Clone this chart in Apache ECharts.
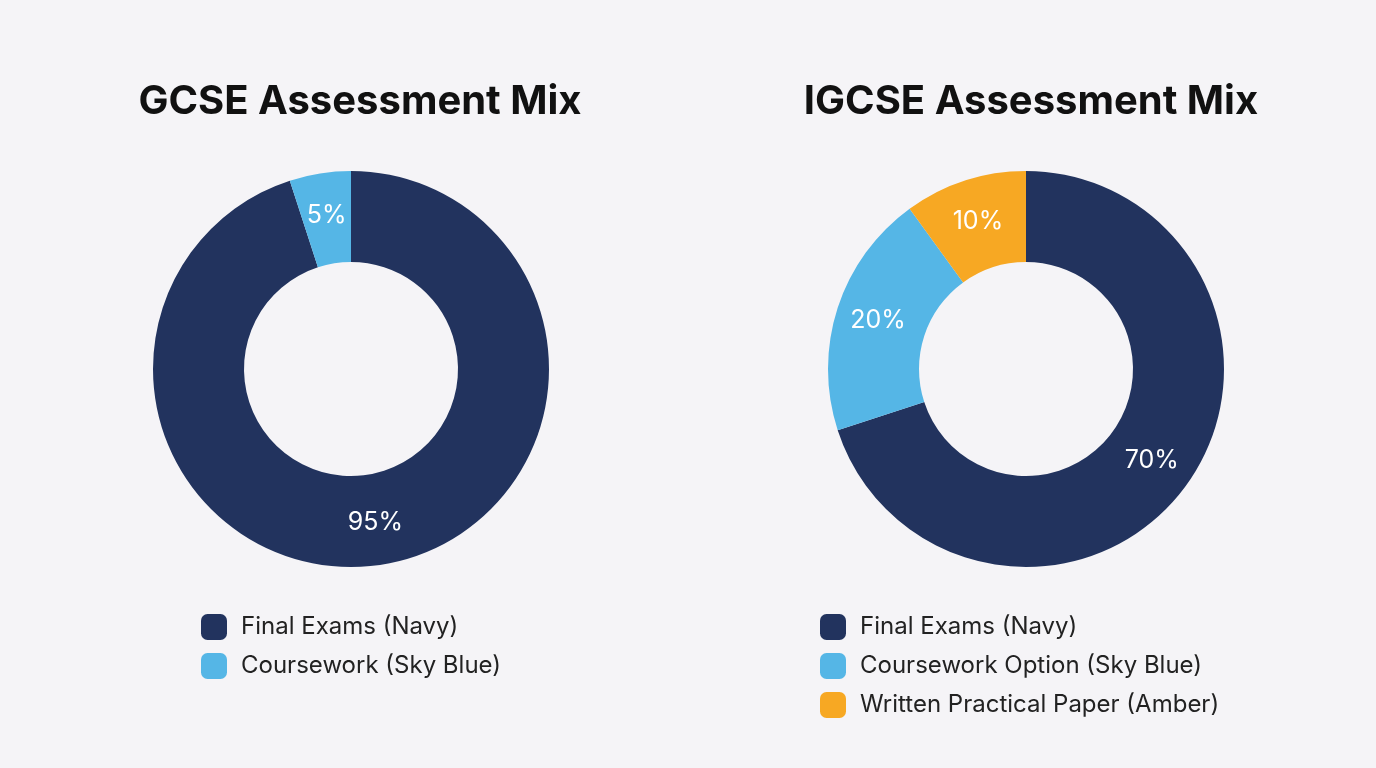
<!DOCTYPE html>
<html><head><meta charset="utf-8">
<script src="https://cdn.jsdelivr.net/npm/echarts@6/dist/echarts.min.js"></script>
<style>html,body{margin:0;padding:0;background:#f5f4f7}#c{width:1376px;height:768px}</style>
</head><body><div id="c"></div>
<script>
const gcseNames = ['Final Exams (Navy)', 'Coursework (Sky Blue)'];
const gcseValues = [95, 5];
const igcseNames = ['Final Exams (Navy)', 'Coursework Option (Sky Blue)', 'Written Practical Paper (Amber)'];
const igcseValues = [70, 20, 10];
const colors = ['#22335e', '#55b6e6', '#f7a823'];

const chart = echarts.init(document.getElementById('c'));
const font = 'Inter, "Noto Sans", sans-serif';
function pie(center, names, values) {
  return {
    type: 'pie', center: center, radius: [107, 198], startAngle: 90, clockwise: true,
    avoidLabelOverlap: false, silent: true,
    label: { show: true, position: 'inside', formatter: '{c}%', color: '#fff', fontSize: 25, fontFamily: font },
    labelLine: { show: false },
    data: names.map((n, i) => ({ name: n, value: values[i], itemStyle: { color: colors[i] } }))
  };
}
function legend(left, names) {
  return {
    left: left, top: 609, orient: 'vertical', data: names, icon: 'roundRect',
    itemWidth: 26, itemHeight: 26, itemGap: 13, selectedMode: false,
    textStyle: { fontSize: 24, color: '#222', fontFamily: font, padding: [0, 0, 0, 9] }
  };
}
chart.setOption({
  backgroundColor: '#f5f4f7',
  title: [
    { text: 'GCSE Assessment Mix', left: 355, top: 77, textAlign: 'center', textStyle: { fontSize: 40, fontWeight: 'bold', color: '#111', fontFamily: font } },
    { text: 'IGCSE Assessment Mix', left: 1026, top: 77, textAlign: 'center', textStyle: { fontSize: 40, fontWeight: 'bold', color: '#111', fontFamily: font } }
  ],
  legend: [legend(196, gcseNames), legend(815, igcseNames)],
  series: [pie([351, 369], gcseNames, gcseValues), pie([1026, 369], igcseNames, igcseValues)]
});
</script></body></html>
